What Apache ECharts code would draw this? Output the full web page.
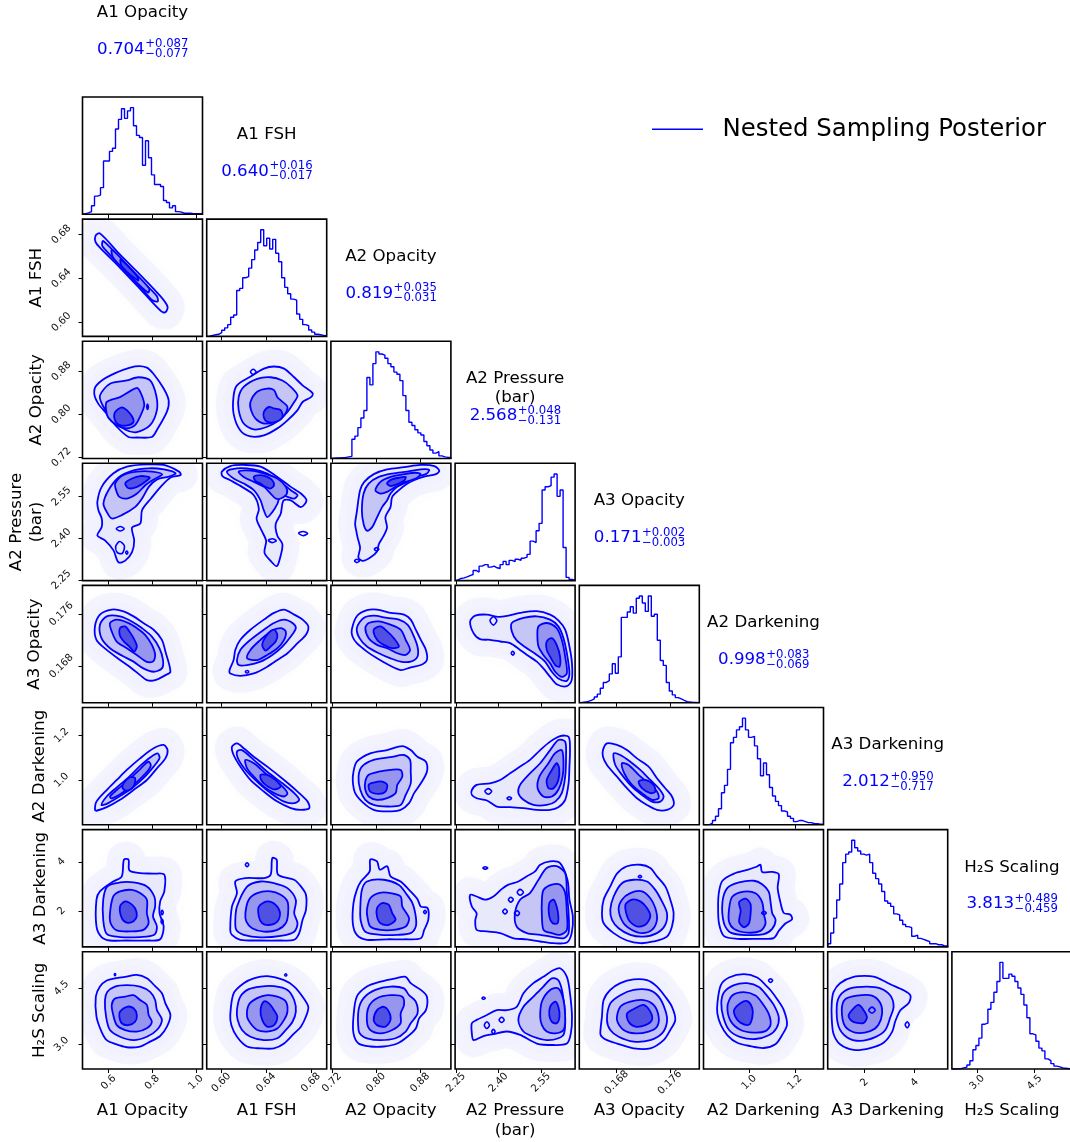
<!DOCTYPE html>
<html>
<head>
<meta charset="utf-8">
<script src="https://cdn.jsdelivr.net/npm/echarts@6/dist/echarts.min.js"></script>
<style>
  html, body { margin: 0; padding: 0; background: #ffffff; }
  #chart { width: 1070px; height: 1142px; }
</style>
</head>
<body>
<div id="chart"></div>
<script>
// ---------------- parameters ----------------
const PARAM_NAMES = ['A1 Opacity', 'A1 FSH', 'A2 Opacity', 'A2 Pressure\n(bar)', 'A3 Opacity', 'A2 Darkening', 'A3 Darkening', 'H\u2082S Scaling'];
const AXIS_MIN = [0.48, 0.587, 0.718, 2.247, 0.1624, 0.80, 0.54, 2.34];
const AXIS_MAX = [1.03, 0.694, 0.936, 2.670, 0.1804, 1.326, 5.31, 5.47];
const TICK_VALUES = [[0.6, 0.8, 1.0], [0.60, 0.64, 0.68], [0.72, 0.80, 0.88], [2.25, 2.40, 2.55], [0.168, 0.176], [1.0, 1.2], [2, 4], [3.0, 4.5]];
const TICK_TEXT = [['0.6', '0.8', '1.0'], ['0.60', '0.64', '0.68'], ['0.72', '0.80', '0.88'], ['2.25', '2.40', '2.55'], ['0.168', '0.176'], ['1.0', '1.2'], ['2', '4'], ['3.0', '4.5']];
const MEDIAN_TEXT = ['0.704', '0.640', '0.819', '2.568', '0.171', '0.998', '2.012', '3.813'];
const ERR_UP_TEXT = ['+0.087', '+0.016', '+0.035', '+0.048', '+0.002', '+0.083', '+0.950', '+0.489'];
const ERR_DOWN_TEXT = ['\u22120.077', '\u22120.017', '\u22120.031', '\u22120.131', '\u22120.003', '\u22120.069', '\u22120.717', '\u22120.459'];
const LEGEND_TEXT = 'Nested Sampling Posterior';

// ---------------- 1D marginals (40 bins over each axis range, relative counts) ----------------
const HIST_A1_OPACITY = [0.6,1.3,2.5,8,17,18,25,50,50,59,62,80,89,99,90,97,100,83,74,72,46,69,53,37,28,28,26,13,11,6,8,2.5,2,1,1,1,0.5,0.5,0.5,0.3];
const HIST_A1_FSH = [0.3,1,1.5,2,3.5,5.7,8,11,18,20,43,45,55,56,64,72,81,88,100,85,92,82,91,78,70,55,46,40,35,34,21,16,11,10,6,4,2,1.5,1,0.5];
const HIST_A2_OPACITY = [0.3,0.5,0.6,0.8,1,1.5,2,18,21,29,38,45,76,69,89,100,98,97,94,89,86,81,79,73,59,45,34,31,27,24,22,16,12,8,5,6.5,2.5,1.5,1,1];
const HIST_A2_PRESSURE = [0.6,2,2.5,3.5,4.7,5.7,9.5,8,13.6,15,15,12.6,13.6,12,11.4,15,18,15,19,17.7,20,19,21,22,24.6,37,35.7,46.8,53.7,85,88,89,97,100,79,85,31,3,1,0.5];
const HIST_A3_OPACITY = [0.3,0.6,1.3,2.2,3.5,5.4,8,13.6,19,20.6,27,36.5,27.6,43,80,80,85,90,84,98,100,93.5,85.6,100,81,83,58.6,39.6,35,19,11,7.3,4.8,3.5,2.2,1,0.6,0.3,0.2,0.1];
const HIST_A2_DARKENING = [0,0.2,1.5,4,8,15,30,37,52,77,82,89,92,100,89,82,83,74,62,46,58,47,35,27,22,18,13,12,8,6,3,4,4,3,2,2,1,1,0.5,0.5];
const HIST_A3_DARKENING = [3,13,27,44,59,79,87,89,100,93,90,87,86,87,79,69,64,59,52,43,41,38,31,30,25,21,19,18,10,11,8,7,6,5,3,3,2,2,1,1];
const HIST_H2S_SCALING = [0,0,0.3,1,1.7,3.7,7.8,18,22,29,42,43,56,62.5,72,82,100,85,85,89,87,82,76,70,60,48,33,32,26,19.6,17,9.5,7.8,5,2.7,2,1,0.7,0.3,0];

// ---------------- 2D credible contours (outer -> inner), vertices in data units ----------------
const LEVELS_1_0 = [
  [[0.54,0.679],[0.56,0.681],[0.65,0.662],[0.75,0.642],[0.84,0.623],[0.87,0.614],[0.86,0.609],[0.84,0.610],[0.75,0.629],[0.65,0.650],[0.56,0.668],[0.54,0.673]],
  [[0.575,0.674],[0.65,0.659],[0.75,0.638],[0.82,0.624],[0.825,0.619],[0.80,0.620],[0.75,0.631],[0.65,0.652],[0.585,0.666],[0.57,0.670]],
  [[0.615,0.666],[0.70,0.649],[0.785,0.631],[0.78,0.627],[0.70,0.642],[0.62,0.659]],
  [[0.655,0.657],[0.73,0.642],[0.735,0.638],[0.66,0.651]]
];
const ISLANDS_1_0 = [];

const LEVELS_2_0 = [
  [[0.534,0.838],[0.544,0.854],[0.606,0.872],[0.721,0.889],[0.775,0.887],[0.806,0.875],[0.852,0.848],[0.875,0.826],[0.867,0.805],[0.821,0.771],[0.798,0.758],[0.729,0.757],[0.691,0.758],[0.637,0.777],[0.591,0.801],[0.552,0.820]],
  [[0.560,0.835],[0.606,0.857],[0.683,0.863],[0.736,0.869],[0.790,0.863],[0.818,0.835],[0.821,0.808],[0.790,0.780],[0.729,0.767],[0.675,0.772],[0.614,0.792],[0.572,0.817]],
  [[0.591,0.823],[0.652,0.832],[0.706,0.845],[0.732,0.849],[0.752,0.835],[0.763,0.817],[0.744,0.796],[0.721,0.780],[0.683,0.774],[0.637,0.780],[0.598,0.794],[0.588,0.808]],
  [[0.629,0.804],[0.660,0.813],[0.683,0.808],[0.706,0.797],[0.714,0.786],[0.691,0.780],[0.652,0.780],[0.629,0.789]]
];
const ISLANDS_2_0 = [[[0.774,0.814],[0.778,0.819],[0.782,0.814],[0.778,0.809]]];

const LEVELS_3_0 = [
  [[0.548,2.531],[0.568,2.585],[0.622,2.634],[0.684,2.658],[0.776,2.666],[0.853,2.664],[0.922,2.640],[0.930,2.628],[0.884,2.619],[0.838,2.585],[0.794,2.543],[0.753,2.501],[0.745,2.453],[0.707,2.438],[0.717,2.392],[0.707,2.350],[0.676,2.319],[0.645,2.313],[0.622,2.356],[0.583,2.392],[0.548,2.410],[0.568,2.440],[0.568,2.471],[0.553,2.501]],
  [[0.576,2.525],[0.599,2.573],[0.645,2.619],[0.707,2.643],[0.784,2.652],[0.853,2.648],[0.907,2.634],[0.876,2.622],[0.822,2.612],[0.784,2.585],[0.753,2.543],[0.722,2.513],[0.660,2.483],[0.614,2.471],[0.591,2.495]],
  [[0.630,2.598],[0.668,2.628],[0.730,2.640],[0.799,2.640],[0.845,2.630],[0.807,2.612],[0.768,2.591],[0.730,2.561],[0.684,2.543],[0.649,2.549],[0.634,2.573]],
  [[0.676,2.598],[0.707,2.615],[0.745,2.624],[0.788,2.619],[0.768,2.604],[0.730,2.585],[0.691,2.580]]
];
const ISLANDS_3_0 = [
  [[0.635,2.434],[0.653,2.442],[0.671,2.434],[0.653,2.426]],
  [[0.632,2.370],[0.650,2.388],[0.672,2.372],[0.662,2.345],[0.640,2.348]],
  [[0.678,2.349],[0.683,2.354],[0.688,2.348],[0.683,2.342]]
];

const LEVELS_4_0 = [
  [[0.537,0.17410],[0.560,0.17592],[0.614,0.17669],[0.668,0.17642],[0.714,0.17565],[0.759,0.17462],[0.806,0.17360],[0.844,0.17205],[0.860,0.17025],[0.883,0.16715],[0.860,0.16663],[0.813,0.16586],[0.775,0.16586],[0.744,0.16663],[0.706,0.16766],[0.652,0.16895],[0.591,0.17050],[0.544,0.17205]],
  [[0.560,0.17437],[0.591,0.17565],[0.652,0.17565],[0.706,0.17487],[0.752,0.17385],[0.798,0.17255],[0.833,0.17075],[0.849,0.16895],[0.844,0.16766],[0.806,0.16715],[0.759,0.16766],[0.714,0.16870],[0.664,0.16956],[0.606,0.17075],[0.567,0.17230]],
  [[0.606,0.17462],[0.637,0.17514],[0.691,0.17462],[0.729,0.17385],[0.767,0.17282],[0.798,0.17127],[0.813,0.16973],[0.803,0.16870],[0.772,0.16870],[0.729,0.16973],[0.683,0.17075],[0.637,0.17178],[0.614,0.17333]],
  [[0.652,0.17385],[0.675,0.17410],[0.695,0.17333],[0.714,0.17230],[0.729,0.17111],[0.717,0.17025],[0.695,0.17102],[0.670,0.17178],[0.652,0.17266]]
];
const ISLANDS_4_0 = [];

const LEVELS_5_0 = [
  [[0.537,0.867],[0.544,0.904],[0.591,0.956],[0.637,1.001],[0.683,1.046],[0.744,1.098],[0.806,1.143],[0.852,1.158],[0.870,1.135],[0.860,1.098],[0.821,1.053],[0.775,1.001],[0.714,0.956],[0.652,0.912],[0.591,0.879],[0.544,0.863]],
  [[0.567,0.889],[0.591,0.927],[0.637,0.968],[0.691,1.013],[0.744,1.064],[0.790,1.102],[0.824,1.120],[0.833,1.098],[0.806,1.061],[0.759,1.009],[0.706,0.964],[0.644,0.924],[0.591,0.894]],
  [[0.606,0.927],[0.637,0.956],[0.691,1.001],[0.744,1.050],[0.782,1.083],[0.793,1.065],[0.767,1.028],[0.714,0.979],[0.660,0.942],[0.614,0.918]],
  [[0.668,0.986],[0.698,1.013],[0.721,1.009],[0.714,0.972],[0.683,0.953],[0.664,0.964]]
];
const ISLANDS_5_0 = [];

const LEVELS_6_0 = [
  [[0.544,2.46],[0.560,2.80],[0.621,3.20],[0.660,3.41],[0.670,4.09],[0.691,4.09],[0.695,3.65],[0.744,3.54],[0.806,3.52],[0.855,3.48],[0.855,2.80],[0.836,2.39],[0.833,1.91],[0.852,1.37],[0.836,0.85],[0.783,0.80],[0.683,0.80],[0.606,0.80],[0.567,0.94],[0.544,1.37]],
  [[0.575,2.46],[0.594,3.00],[0.652,3.16],[0.714,3.16],[0.775,3.00],[0.809,2.59],[0.813,2.19],[0.803,1.78],[0.821,1.37],[0.809,1.03],[0.744,0.94],[0.652,0.94],[0.591,1.07],[0.575,1.64]],
  [[0.606,1.91],[0.621,2.59],[0.652,2.80],[0.706,2.86],[0.744,2.73],[0.775,2.46],[0.775,1.91],[0.783,1.50],[0.759,1.23],[0.706,1.17],[0.637,1.21],[0.609,1.50]],
  [[0.652,2.19],[0.675,2.39],[0.698,2.32],[0.721,2.11],[0.729,1.80],[0.714,1.58],[0.683,1.53],[0.660,1.71]]
];
const ISLANDS_6_0 = [
  [[0.840,1.94],[0.845,2.03],[0.850,1.94],[0.845,1.85]],
  [[0.840,1.57],[0.845,1.66],[0.850,1.57],[0.845,1.48]]
];

const LEVELS_7_0 = [
  [[0.541,4.27],[0.560,4.54],[0.591,4.70],[0.629,4.76],[0.675,4.80],[0.729,4.85],[0.775,4.76],[0.813,4.55],[0.844,4.36],[0.860,4.09],[0.883,3.78],[0.867,3.47],[0.836,3.22],[0.790,3.07],[0.744,2.94],[0.683,2.92],[0.629,3.01],[0.591,3.11],[0.567,3.34],[0.544,3.74]],
  [[0.583,4.18],[0.594,4.40],[0.629,4.54],[0.683,4.58],[0.744,4.54],[0.790,4.40],[0.813,4.18],[0.821,3.91],[0.844,3.65],[0.821,3.38],[0.775,3.20],[0.714,3.11],[0.652,3.20],[0.606,3.38],[0.588,3.74]],
  [[0.614,4.05],[0.629,4.22],[0.675,4.27],[0.714,4.31],[0.744,4.18],[0.775,4.05],[0.783,3.78],[0.798,3.60],[0.775,3.43],[0.729,3.34],[0.675,3.38],[0.637,3.51],[0.621,3.78]],
  [[0.652,3.87],[0.683,4.00],[0.714,3.96],[0.729,3.78],[0.721,3.60],[0.691,3.51],[0.660,3.56],[0.649,3.74]]
];
const ISLANDS_7_0 = [[[0.626,4.86],[0.629,4.89],[0.632,4.86],[0.629,4.83]]];

const LEVELS_2_1 = [
  [[0.611,0.835],[0.614,0.854],[0.625,0.869],[0.638,0.885],[0.647,0.889],[0.656,0.885],[0.665,0.869],[0.6725,0.854],[0.6815,0.839],[0.680,0.832],[0.6725,0.823],[0.668,0.808],[0.659,0.789],[0.650,0.774],[0.638,0.761],[0.626,0.759],[0.617,0.770],[0.611,0.801]],
  [[0.6155,0.832],[0.620,0.851],[0.632,0.866],[0.644,0.869],[0.6545,0.863],[0.662,0.851],[0.668,0.835],[0.665,0.823],[0.659,0.8045],[0.6515,0.789],[0.641,0.777],[0.629,0.772],[0.620,0.783],[0.6155,0.808]],
  [[0.626,0.823],[0.632,0.842],[0.641,0.848],[0.647,0.845],[0.650,0.832],[0.653,0.826],[0.659,0.814],[0.656,0.798],[0.647,0.786],[0.638,0.783],[0.6305,0.792],[0.6265,0.808]],
  [[0.638,0.8045],[0.6425,0.814],[0.647,0.811],[0.653,0.808],[0.6545,0.795],[0.6485,0.786],[0.641,0.786],[0.638,0.794]]
];
const ISLANDS_2_1 = [[[0.626,0.879],[0.6285,0.884],[0.631,0.879],[0.6285,0.874]]];

const LEVELS_3_1 = [
  [[0.6005,2.640],[0.608,2.660],[0.620,2.664],[0.635,2.658],[0.650,2.621],[0.662,2.585],[0.671,2.561],[0.676,2.536],[0.671,2.512],[0.662,2.536],[0.6555,2.536],[0.653,2.488],[0.6485,2.451],[0.650,2.409],[0.6545,2.378],[0.6525,2.330],[0.6495,2.299],[0.644,2.318],[0.6385,2.348],[0.640,2.390],[0.636,2.427],[0.6315,2.470],[0.6335,2.506],[0.629,2.555],[0.6185,2.585],[0.608,2.609],[0.601,2.624]],
  [[0.605,2.640],[0.614,2.652],[0.629,2.648],[0.641,2.633],[0.653,2.603],[0.662,2.573],[0.668,2.555],[0.665,2.543],[0.659,2.549],[0.653,2.555],[0.650,2.524],[0.6455,2.494],[0.641,2.476],[0.638,2.500],[0.635,2.536],[0.629,2.573],[0.620,2.597],[0.611,2.615]],
  [[0.6155,2.640],[0.626,2.644],[0.638,2.634],[0.650,2.615],[0.6575,2.585],[0.6585,2.561],[0.653,2.543],[0.6485,2.543],[0.644,2.561],[0.638,2.585],[0.629,2.603],[0.620,2.621]],
  [[0.629,2.621],[0.635,2.627],[0.641,2.621],[0.6455,2.609],[0.647,2.591],[0.644,2.579],[0.6395,2.585],[0.635,2.597],[0.6305,2.607]]
];
const ISLANDS_3_1 = [
  [[0.669,2.418],[0.673,2.424],[0.677,2.417],[0.673,2.409]],
  [[0.642,2.392],[0.6455,2.398],[0.649,2.391],[0.6455,2.384]]
];

const LEVELS_4_1 = [
  [[0.6074,0.16741],[0.611,0.16895],[0.6125,0.17050],[0.617,0.17205],[0.626,0.17360],[0.638,0.17515],[0.647,0.17618],[0.656,0.17669],[0.665,0.17592],[0.6725,0.17515],[0.6776,0.17411],[0.6755,0.17282],[0.668,0.17153],[0.659,0.16999],[0.650,0.16895],[0.641,0.16792],[0.629,0.16689],[0.617,0.16653],[0.608,0.16689]],
  [[0.614,0.16895],[0.617,0.17050],[0.626,0.17205],[0.638,0.17360],[0.647,0.17463],[0.656,0.17515],[0.6635,0.17463],[0.6665,0.17385],[0.662,0.17256],[0.6545,0.17102],[0.6455,0.16973],[0.635,0.16870],[0.623,0.16818],[0.6155,0.16818]],
  [[0.623,0.16921],[0.626,0.17050],[0.635,0.17205],[0.644,0.17334],[0.653,0.17385],[0.6575,0.17334],[0.656,0.17205],[0.650,0.17076],[0.641,0.16973],[0.632,0.16895]],
  [[0.6365,0.17127],[0.641,0.17282],[0.647,0.17360],[0.650,0.17282],[0.6485,0.17179],[0.644,0.17102],[0.6395,0.17040]]
];
const ISLANDS_4_1 = [[[0.6215,0.16715],[0.623,0.16735],[0.6245,0.16715],[0.623,0.16695]]];

const LEVELS_5_1 = [
  [[0.6095,1.150],[0.614,1.165],[0.620,1.143],[0.629,1.105],[0.641,1.061],[0.656,1.001],[0.668,0.949],[0.677,0.904],[0.6785,0.875],[0.671,0.867],[0.662,0.875],[0.650,0.904],[0.638,0.949],[0.626,1.001],[0.617,1.061],[0.611,1.113]],
  [[0.614,1.128],[0.6185,1.135],[0.629,1.091],[0.641,1.038],[0.6545,0.986],[0.665,0.942],[0.6695,0.912],[0.665,0.897],[0.656,0.904],[0.644,0.942],[0.6335,0.986],[0.623,1.038],[0.6155,1.091]],
  [[0.6215,1.091],[0.629,1.076],[0.641,1.024],[0.653,0.979],[0.659,0.942],[0.656,0.927],[0.647,0.942],[0.638,0.971],[0.629,1.016],[0.623,1.053]],
  [[0.635,1.024],[0.641,1.024],[0.6485,1.001],[0.653,0.971],[0.647,0.959],[0.6395,0.979],[0.6356,1.001]]
];
const ISLANDS_5_1 = [];

const LEVELS_6_1 = [
  [[0.608,1.23],[0.6095,2.18],[0.614,2.73],[0.6125,3.20],[0.6215,3.34],[0.638,3.34],[0.644,3.48],[0.6455,4.15],[0.6494,4.09],[0.6506,3.48],[0.665,3.27],[0.671,3.00],[0.6755,2.66],[0.6755,2.05],[0.6725,1.64],[0.6695,1.10],[0.665,0.83],[0.653,0.80],[0.635,0.80],[0.617,0.83],[0.6095,1.03]],
  [[0.6125,1.64],[0.614,2.18],[0.623,2.99],[0.635,3.20],[0.647,3.13],[0.659,2.93],[0.6665,2.45],[0.665,1.91],[0.668,1.50],[0.665,1.16],[0.653,0.99],[0.635,0.93],[0.620,1.03],[0.6134,1.23]],
  [[0.6215,1.91],[0.6245,2.46],[0.632,2.73],[0.644,2.80],[0.653,2.66],[0.659,2.39],[0.6596,1.91],[0.6575,1.50],[0.650,1.23],[0.638,1.16],[0.6275,1.30],[0.6224,1.57]],
  [[0.6335,2.18],[0.641,2.39],[0.6485,2.25],[0.6524,1.91],[0.650,1.57],[0.6425,1.43],[0.6365,1.50],[0.6335,1.77]]
];
const ISLANDS_6_1 = [[[0.6215,3.88],[0.623,3.96],[0.6245,3.88],[0.623,3.80]]];

const LEVELS_7_1 = [
  [[0.608,3.78],[0.611,4.36],[0.620,4.63],[0.629,4.76],[0.641,4.82],[0.656,4.71],[0.665,4.54],[0.6725,4.27],[0.6776,4.00],[0.6755,3.74],[0.671,3.47],[0.665,3.29],[0.656,3.02],[0.647,2.89],[0.635,2.89],[0.623,2.94],[0.614,3.20],[0.609,3.51]],
  [[0.614,3.92],[0.617,4.27],[0.6245,4.47],[0.635,4.54],[0.647,4.55],[0.659,4.45],[0.665,4.18],[0.6665,3.87],[0.6635,3.60],[0.6575,3.38],[0.650,3.16],[0.638,3.11],[0.626,3.20],[0.6185,3.38],[0.6146,3.65]],
  [[0.623,3.74],[0.6245,4.05],[0.632,4.23],[0.641,4.31],[0.650,4.27],[0.6575,4.14],[0.659,3.87],[0.656,3.65],[0.650,3.42],[0.641,3.34],[0.632,3.38],[0.626,3.56]],
  [[0.635,3.91],[0.638,4.14],[0.6425,4.09],[0.647,3.91],[0.650,3.74],[0.647,3.51],[0.641,3.47],[0.6365,3.65]]
];
const ISLANDS_7_1 = [[[0.6565,4.85],[0.6575,4.88],[0.6585,4.85],[0.6575,4.82]]];

const LEVELS_3_2 = [
  [[0.762,2.451],[0.765,2.494],[0.771,2.573],[0.7786,2.603],[0.796,2.631],[0.820,2.648],[0.851,2.656],[0.881,2.664],[0.906,2.660],[0.915,2.643],[0.909,2.631],[0.8875,2.622],[0.869,2.609],[0.8557,2.595],[0.8416,2.573],[0.8294,2.549],[0.8263,2.512],[0.817,2.476],[0.820,2.439],[0.814,2.409],[0.805,2.378],[0.8018,2.352],[0.7896,2.330],[0.776,2.318],[0.768,2.330],[0.771,2.366],[0.7664,2.403],[0.764,2.427]],
  [[0.7743,2.500],[0.7774,2.561],[0.7866,2.597],[0.805,2.621],[0.8294,2.633],[0.857,2.640],[0.881,2.648],[0.8967,2.646],[0.8906,2.631],[0.8722,2.621],[0.857,2.603],[0.8386,2.585],[0.8263,2.561],[0.820,2.536],[0.811,2.512],[0.802,2.476],[0.7927,2.439],[0.7835,2.427],[0.7774,2.451]],
  [[0.7988,2.573],[0.808,2.603],[0.8263,2.621],[0.8508,2.631],[0.872,2.636],[0.881,2.631],[0.872,2.615],[0.8539,2.603],[0.8355,2.585],[0.820,2.567],[0.808,2.561]],
  [[0.820,2.597],[0.829,2.612],[0.8447,2.619],[0.854,2.621],[0.851,2.607],[0.8386,2.595],[0.8263,2.588]]
];
const ISLANDS_3_2 = [
  [[0.761,2.318],[0.765,2.324],[0.770,2.318],[0.765,2.312]],
  [[0.797,2.360],[0.801,2.366],[0.805,2.360],[0.801,2.354]]
];

const LEVELS_4_2 = [
  [[0.7559,0.17360],[0.7651,0.17566],[0.7835,0.17659],[0.8018,0.17669],[0.8263,0.17618],[0.8508,0.17592],[0.8630,0.17514],[0.8722,0.17360],[0.8814,0.17205],[0.8906,0.17050],[0.8924,0.16895],[0.8814,0.16818],[0.8630,0.16782],[0.8447,0.16741],[0.8233,0.16818],[0.8018,0.16921],[0.7835,0.17024],[0.7651,0.17153],[0.7572,0.17256]],
  [[0.7651,0.17385],[0.7774,0.17540],[0.7957,0.17576],[0.8202,0.17540],[0.8416,0.17514],[0.857,0.17437],[0.8661,0.17308],[0.8753,0.17102],[0.8753,0.16947],[0.863,0.16870],[0.8447,0.16870],[0.8263,0.16921],[0.805,0.16999],[0.7835,0.17102],[0.770,0.17230]],
  [[0.7805,0.17385],[0.7866,0.17462],[0.805,0.17488],[0.8263,0.17437],[0.8447,0.17360],[0.8539,0.17205],[0.8618,0.17050],[0.8539,0.16973],[0.8386,0.16999],[0.820,0.17076],[0.8018,0.17127],[0.7866,0.17230]],
  [[0.7957,0.17360],[0.808,0.17411],[0.8202,0.17334],[0.8324,0.17230],[0.8416,0.17102],[0.8294,0.17076],[0.814,0.17127],[0.8018,0.17205]]
];
const ISLANDS_4_2 = [];

const LEVELS_5_2 = [
  [[0.759,1.038],[0.7651,1.083],[0.7896,1.120],[0.8202,1.135],[0.8477,1.153],[0.863,1.135],[0.8753,1.105],[0.8906,1.083],[0.8924,1.038],[0.8814,0.986],[0.8692,0.942],[0.860,0.897],[0.8447,0.867],[0.8202,0.860],[0.7957,0.867],[0.7774,0.897],[0.7621,0.942],[0.7578,0.994]],
  [[0.7682,1.016],[0.7743,1.061],[0.7957,1.091],[0.8263,1.103],[0.8508,1.113],[0.8618,1.091],[0.863,1.038],[0.863,0.986],[0.8539,0.934],[0.8447,0.889],[0.8202,0.882],[0.7957,0.889],[0.7805,0.912],[0.7713,0.957]],
  [[0.7805,0.994],[0.7866,1.024],[0.805,1.038],[0.8263,1.046],[0.8447,1.046],[0.8477,1.016],[0.8386,0.979],[0.8355,0.942],[0.8202,0.920],[0.8018,0.912],[0.7866,0.927],[0.7805,0.957]],
  [[0.7866,0.979],[0.7957,0.989],[0.811,0.994],[0.8202,0.979],[0.8171,0.949],[0.805,0.939],[0.7896,0.949]]
];
const ISLANDS_5_2 = [];

const LEVELS_6_2 = [
  [[0.759,2.32],[0.7651,2.86],[0.7725,3.20],[0.7884,3.61],[0.7896,4.09],[0.8018,4.02],[0.8067,3.68],[0.8202,3.82],[0.8263,3.41],[0.8447,3.20],[0.860,2.86],[0.8753,2.48],[0.8814,2.18],[0.8936,2.12],[0.8949,1.64],[0.8875,1.23],[0.8814,0.89],[0.8508,0.85],[0.8202,0.85],[0.7835,0.83],[0.7651,1.03],[0.7578,1.50]],
  [[0.7713,2.05],[0.7743,2.86],[0.7835,3.20],[0.8141,3.27],[0.8416,3.06],[0.8539,2.73],[0.8661,2.32],[0.8722,1.77],[0.8722,1.37],[0.863,1.10],[0.8386,1.03],[0.808,1.03],[0.7805,1.16],[0.7725,1.57]],
  [[0.7835,2.05],[0.7896,2.52],[0.805,2.73],[0.8263,2.73],[0.8447,2.59],[0.8477,2.18],[0.860,1.71],[0.8539,1.37],[0.8324,1.23],[0.808,1.23],[0.7896,1.37],[0.7847,1.71]],
  [[0.8018,2.12],[0.811,2.32],[0.8233,2.25],[0.8294,1.91],[0.8355,1.64],[0.8233,1.44],[0.808,1.50],[0.8018,1.77]]
];
const ISLANDS_6_2 = [[[0.8865,1.96],[0.889,2.03],[0.8915,1.96],[0.889,1.89]]];

const LEVELS_7_2 = [
  [[0.759,3.29],[0.759,3.74],[0.7651,4.27],[0.7835,4.54],[0.808,4.67],[0.8355,4.76],[0.8539,4.80],[0.863,4.63],[0.8814,4.45],[0.8924,4.27],[0.8906,3.91],[0.8783,3.69],[0.8722,3.42],[0.8569,3.20],[0.8386,3.02],[0.8141,2.94],[0.7896,2.94],[0.7682,3.02]],
  [[0.7682,3.38],[0.7682,3.91],[0.7774,4.23],[0.7988,4.45],[0.8263,4.54],[0.8508,4.49],[0.8599,4.31],[0.8722,4.14],[0.8753,3.82],[0.863,3.56],[0.8539,3.34],[0.8355,3.16],[0.808,3.11],[0.7835,3.16],[0.7725,3.25]],
  [[0.7835,3.60],[0.7866,4.00],[0.8018,4.23],[0.8263,4.31],[0.8477,4.27],[0.8508,4.05],[0.8447,3.82],[0.8447,3.56],[0.8294,3.38],[0.808,3.29],[0.7896,3.38]],
  [[0.7957,3.65],[0.8018,3.91],[0.8141,4.00],[0.8233,3.87],[0.8263,3.65],[0.8171,3.47],[0.8018,3.51]]
];
const ISLANDS_7_2 = [];

const LEVELS_4_3 = [
  [[2.300,0.17489],[2.318,0.17576],[2.359,0.17592],[2.400,0.17556],[2.435,0.17576],[2.476,0.17618],[2.535,0.17644],[2.582,0.17592],[2.611,0.17504],[2.635,0.17360],[2.650,0.17102],[2.659,0.16844],[2.658,0.16586],[2.641,0.16493],[2.605,0.16524],[2.582,0.16637],[2.558,0.16766],[2.535,0.16870],[2.506,0.16957],[2.476,0.17050],[2.441,0.17153],[2.406,0.17179],[2.370,0.17205],[2.335,0.17215],[2.312,0.17308]],
  [[2.447,0.17463],[2.488,0.17540],[2.535,0.17566],[2.582,0.17514],[2.611,0.17411],[2.629,0.17231],[2.641,0.16999],[2.650,0.16689],[2.641,0.16575],[2.611,0.16611],[2.588,0.16715],[2.564,0.16870],[2.535,0.16973],[2.500,0.17076],[2.464,0.17195],[2.447,0.17334]],
  [[2.541,0.17411],[2.570,0.17463],[2.605,0.17385],[2.623,0.17205],[2.635,0.16947],[2.641,0.16689],[2.623,0.16637],[2.600,0.16715],[2.582,0.16844],[2.558,0.16973],[2.541,0.17102],[2.537,0.17282]],
  [[2.570,0.17179],[2.588,0.17231],[2.605,0.17128],[2.617,0.16947],[2.615,0.16792],[2.600,0.16818],[2.582,0.16947],[2.570,0.17050]]
];
const ISLANDS_4_3 = [
  [[2.370,0.17500],[2.382,0.17560],[2.394,0.17500],[2.382,0.17430]],
  [[2.445,0.17000],[2.450,0.17030],[2.456,0.17000],[2.450,0.16970]]
];

const LEVELS_5_3 = [
  [[2.306,0.956],[2.323,0.979],[2.370,0.986],[2.406,1.001],[2.441,1.031],[2.476,1.061],[2.511,1.091],[2.547,1.135],[2.582,1.173],[2.617,1.198],[2.647,1.195],[2.652,1.135],[2.650,1.061],[2.647,0.986],[2.635,0.912],[2.611,0.879],[2.582,0.867],[2.535,0.867],[2.488,0.875],[2.441,0.879],[2.394,0.882],[2.359,0.909],[2.323,0.919],[2.306,0.934]],
  [[2.476,0.979],[2.511,1.031],[2.547,1.076],[2.582,1.135],[2.611,1.180],[2.635,1.173],[2.638,1.105],[2.635,1.016],[2.623,0.942],[2.600,0.904],[2.570,0.889],[2.523,0.889],[2.488,0.912],[2.470,0.942]],
  [[2.538,0.964],[2.544,1.016],[2.576,1.076],[2.599,1.120],[2.623,1.135],[2.629,1.083],[2.626,1.016],[2.611,0.957],[2.588,0.927],[2.558,0.927]],
  [[2.570,1.001],[2.588,1.046],[2.605,1.076],[2.614,1.053],[2.611,1.001],[2.594,0.964],[2.576,0.964]]
];
const ISLANDS_5_3 = [
  [[2.352,0.950],[2.364,0.962],[2.376,0.950],[2.364,0.937]],
  [[2.430,0.919],[2.438,0.926],[2.446,0.919],[2.438,0.912]]
];

const LEVELS_6_3 = [
  [[2.300,2.66],[2.306,2.18],[2.323,1.91],[2.318,1.61],[2.323,1.23],[2.359,1.17],[2.406,1.10],[2.453,0.89],[2.500,0.85],[2.547,0.76],[2.594,0.69],[2.641,0.72],[2.658,1.10],[2.662,1.78],[2.650,2.46],[2.643,3.27],[2.617,3.95],[2.582,4.02],[2.547,3.88],[2.529,3.61],[2.500,3.41],[2.470,3.20],[2.435,3.07],[2.411,2.89],[2.382,2.59],[2.353,2.46],[2.323,2.59]],
  [[2.476,2.46],[2.511,2.73],[2.541,3.27],[2.570,3.75],[2.605,3.82],[2.635,3.54],[2.641,2.73],[2.647,1.91],[2.647,1.10],[2.629,0.89],[2.594,0.94],[2.547,1.03],[2.500,1.10],[2.464,1.37],[2.458,1.91]],
  [[2.553,2.46],[2.559,2.86],[2.588,3.07],[2.617,3.07],[2.635,2.73],[2.641,1.91],[2.641,1.23],[2.617,1.03],[2.588,1.10],[2.559,1.23],[2.553,1.78]],
  [[2.579,2.32],[2.594,2.46],[2.605,2.18],[2.611,1.78],[2.608,1.50],[2.591,1.50],[2.579,1.78]]
];
const ISLANDS_6_3 = [
  [[2.466,2.76],[2.476,2.88],[2.488,2.76],[2.476,2.64]],
  [[2.435,2.46],[2.443,2.56],[2.452,2.46],[2.443,2.36]],
  [[2.415,1.98],[2.423,2.08],[2.431,1.98],[2.423,1.88]],
  [[2.456,1.91],[2.466,2.01],[2.474,1.91],[2.466,1.81]],
  [[2.345,3.75],[2.353,3.80],[2.362,3.75],[2.353,3.70]]
];

const LEVELS_7_3 = [
  [[2.306,3.56],[2.323,3.65],[2.359,3.78],[2.394,3.91],[2.429,3.91],[2.464,4.00],[2.488,4.36],[2.523,4.63],[2.558,4.80],[2.594,4.98],[2.617,5.03],[2.641,4.80],[2.652,4.36],[2.659,3.74],[2.655,3.29],[2.641,3.02],[2.594,2.98],[2.535,3.02],[2.476,3.25],[2.429,3.34],[2.382,3.27],[2.347,3.22],[2.312,3.11],[2.306,3.29]],
  [[2.470,3.65],[2.488,4.00],[2.523,4.27],[2.558,4.54],[2.588,4.76],[2.611,4.71],[2.626,4.36],[2.635,3.74],[2.631,3.29],[2.611,3.16],[2.570,3.11],[2.523,3.20],[2.488,3.34]],
  [[2.547,3.74],[2.553,4.14],[2.582,4.45],[2.611,4.49],[2.629,4.18],[2.635,3.65],[2.629,3.38],[2.600,3.29],[2.570,3.34],[2.553,3.51]],
  [[2.582,4.00],[2.600,4.14],[2.611,4.00],[2.615,3.74],[2.605,3.56],[2.588,3.60],[2.579,3.78]]
];
const ISLANDS_7_3 = [
  [[2.350,3.51],[2.359,3.60],[2.368,3.51],[2.359,3.42]],
  [[2.402,3.65],[2.411,3.72],[2.420,3.65],[2.411,3.58]],
  [[2.376,3.34],[2.382,3.40],[2.388,3.34],[2.382,3.28]],
  [[2.342,4.23],[2.347,4.26],[2.353,4.23],[2.347,4.20]]
];

const LEVELS_5_4 = [
  [[0.16595,1.135],[0.16655,1.165],[0.16805,1.158],[0.16955,1.135],[0.17105,1.098],[0.17280,1.061],[0.17405,1.009],[0.17530,0.964],[0.17630,0.927],[0.17655,0.889],[0.17555,0.867],[0.17405,0.867],[0.17255,0.889],[0.17105,0.919],[0.16955,0.964],[0.16805,1.016],[0.16655,1.068],[0.16595,1.105]],
  [[0.16755,1.120],[0.16855,1.113],[0.17005,1.083],[0.17155,1.046],[0.17305,1.001],[0.17430,0.964],[0.17505,0.927],[0.17455,0.904],[0.17330,0.904],[0.17180,0.934],[0.17030,0.971],[0.16880,1.024],[0.16780,1.068]],
  [[0.16880,1.076],[0.16980,1.068],[0.17130,1.024],[0.17280,0.986],[0.17405,0.949],[0.17430,0.919],[0.17330,0.912],[0.17180,0.942],[0.17030,0.979],[0.16915,1.031]],
  [[0.17130,0.994],[0.17230,1.001],[0.17355,0.979],[0.17380,0.949],[0.17305,0.942],[0.17180,0.964]]
];
const ISLANDS_5_4 = [];

const LEVELS_6_4 = [
  [[0.16580,1.91],[0.16605,2.46],[0.16705,3.00],[0.16805,3.52],[0.16955,3.82],[0.17155,3.88],[0.17305,3.75],[0.17405,3.41],[0.17530,3.00],[0.17605,2.46],[0.17655,1.91],[0.17630,1.37],[0.17555,0.96],[0.17355,0.76],[0.17155,0.69],[0.16955,0.80],[0.16755,1.10],[0.16605,1.50]],
  [[0.16705,2.05],[0.16755,2.59],[0.16880,3.13],[0.17055,3.27],[0.17255,3.20],[0.17380,2.86],[0.17480,2.39],[0.17555,1.91],[0.17530,1.44],[0.17405,1.10],[0.17205,0.96],[0.17005,1.03],[0.16830,1.30],[0.16730,1.64]],
  [[0.16830,2.05],[0.16880,2.46],[0.17005,2.73],[0.17180,2.80],[0.17305,2.52],[0.17380,2.12],[0.17405,1.64],[0.17330,1.23],[0.17180,1.10],[0.17030,1.23],[0.16905,1.50]],
  [[0.16930,2.25],[0.17030,2.46],[0.17155,2.39],[0.17255,2.12],[0.17305,1.78],[0.17230,1.44],[0.17105,1.37],[0.16980,1.64]]
];
const ISLANDS_6_4 = [[[0.17125,3.40],[0.17150,3.45],[0.17175,3.40],[0.17150,3.35]]];

const LEVELS_7_4 = [
  [[0.16555,3.29],[0.16580,3.74],[0.16605,4.18],[0.16705,4.45],[0.16855,4.63],[0.17055,4.73],[0.17255,4.71],[0.17405,4.54],[0.17530,4.27],[0.17630,4.00],[0.17680,3.65],[0.17605,3.38],[0.17505,3.11],[0.17305,2.89],[0.17055,2.89],[0.16805,3.02],[0.16655,3.11],[0.16580,3.20]],
  [[0.16655,3.65],[0.16705,4.09],[0.16855,4.31],[0.17055,4.45],[0.17280,4.45],[0.17430,4.27],[0.17530,3.91],[0.17555,3.60],[0.17480,3.29],[0.17305,3.11],[0.17055,3.07],[0.16830,3.20],[0.16705,3.38]],
  [[0.16805,3.65],[0.16855,4.00],[0.17005,4.14],[0.17205,4.18],[0.17355,4.05],[0.17430,3.74],[0.17405,3.47],[0.17280,3.34],[0.17080,3.29],[0.16905,3.38]],
  [[0.16955,3.82],[0.17080,3.96],[0.17205,4.05],[0.17305,3.87],[0.17330,3.65],[0.17230,3.51],[0.17080,3.47],[0.16980,3.60]]
];
const ISLANDS_7_4 = [];

const LEVELS_6_5 = [
  [[0.868,2.79],[0.883,3.23],[0.934,3.52],[0.992,3.67],[1.035,3.81],[1.050,3.88],[1.057,3.59],[1.101,3.59],[1.130,3.49],[1.125,2.94],[1.137,2.36],[1.152,1.92],[1.181,1.85],[1.188,1.66],[1.159,1.49],[1.130,1.19],[1.108,0.90],[1.035,0.87],[0.948,0.87],[0.890,0.98],[0.868,1.49],[0.864,2.21]],
  [[0.883,2.36],[0.905,2.94],[0.956,3.16],[1.021,3.23],[1.057,3.09],[1.086,2.79],[1.094,2.36],[1.101,1.92],[1.116,1.63],[1.101,1.27],[1.065,1.06],[0.992,1.02],[0.919,1.12],[0.890,1.49]],
  [[0.912,2.07],[0.926,2.58],[0.977,2.79],[1.028,2.72],[1.057,2.36],[1.065,1.85],[1.072,1.49],[1.050,1.19],[0.992,1.12],[0.934,1.27],[0.912,1.56]],
  [[0.956,2.36],[0.985,2.50],[1.006,2.28],[1.006,1.85],[0.999,1.49],[0.977,1.34],[0.956,1.56],[0.963,2.00]]
];
const ISLANDS_6_5 = [[[1.055,1.92],[1.065,1.99],[1.075,1.92],[1.065,1.85]]];

const LEVELS_7_5 = [
  [[0.861,4.10],[0.876,4.58],[0.912,4.78],[0.977,4.87],[1.035,4.78],[1.072,4.58],[1.094,4.44],[1.123,4.20],[1.152,3.91],[1.166,3.52],[1.144,3.24],[1.115,3.00],[1.064,2.90],[1.006,2.95],[0.948,3.04],[0.905,3.24],[0.876,3.52],[0.861,3.81]],
  [[0.878,4.10],[0.890,4.39],[0.934,4.58],[0.992,4.63],[1.043,4.53],[1.079,4.29],[1.108,4.05],[1.130,3.72],[1.120,3.43],[1.086,3.24],[1.028,3.14],[0.963,3.19],[0.912,3.38],[0.887,3.72]],
  [[0.905,4.01],[0.926,4.30],[0.977,4.39],[1.028,4.30],[1.057,4.10],[1.086,3.81],[1.094,3.52],[1.072,3.35],[1.021,3.31],[0.963,3.38],[0.919,3.62]],
  [[0.934,3.91],[0.963,4.10],[0.992,4.15],[1.014,3.96],[1.014,3.72],[0.999,3.52],[0.963,3.57],[0.941,3.72]]
];
const ISLANDS_7_5 = [[[1.085,4.70],[1.094,4.75],[1.103,4.70],[1.094,4.65]]];

const LEVELS_7_6 = [
  [[0.70,4.10],[0.77,4.39],[1.03,4.63],[1.57,4.80],[2.23,4.82],[2.50,4.78],[3.03,4.60],[3.56,4.44],[3.83,4.30],[3.76,4.10],[3.43,3.91],[3.23,3.62],[3.10,3.33],[2.76,3.04],[2.23,2.90],[1.57,2.85],[1.03,3.00],[0.77,3.28],[0.70,3.70]],
  [[0.90,4.01],[1.03,4.30],[1.43,4.49],[2.10,4.54],[2.63,4.49],[3.03,4.30],[3.16,4.01],[3.03,3.72],[2.83,3.38],[2.43,3.19],[1.83,3.09],[1.30,3.19],[0.97,3.48]],
  [[1.10,3.91],[1.23,4.20],[1.70,4.30],[2.30,4.30],[2.63,4.10],[2.70,3.81],[2.56,3.52],[2.23,3.35],[1.63,3.31],[1.23,3.48]],
  [[1.37,3.77],[1.57,3.96],[1.77,4.05],[1.97,3.91],[2.10,3.72],[1.97,3.57],[1.70,3.57],[1.50,3.62]]
];
const ISLANDS_7_6 = [
  [[2.17,3.91],[2.30,3.99],[2.43,3.91],[2.30,3.83]],
  [[3.62,3.52],[3.70,3.60],[3.78,3.52],[3.70,3.44]]
];

// ---------------- tables built from the arrays above ----------------
const HISTOGRAMS = [HIST_A1_OPACITY, HIST_A1_FSH, HIST_A2_OPACITY, HIST_A2_PRESSURE, HIST_A3_OPACITY, HIST_A2_DARKENING, HIST_A3_DARKENING, HIST_H2S_SCALING];
const PAIR_PANELS = [
  { row: 1, col: 0, levels: LEVELS_1_0, islands: ISLANDS_1_0 },
  { row: 2, col: 0, levels: LEVELS_2_0, islands: ISLANDS_2_0 },
  { row: 3, col: 0, levels: LEVELS_3_0, islands: ISLANDS_3_0 },
  { row: 4, col: 0, levels: LEVELS_4_0, islands: ISLANDS_4_0 },
  { row: 5, col: 0, levels: LEVELS_5_0, islands: ISLANDS_5_0 },
  { row: 6, col: 0, levels: LEVELS_6_0, islands: ISLANDS_6_0 },
  { row: 7, col: 0, levels: LEVELS_7_0, islands: ISLANDS_7_0 },
  { row: 2, col: 1, levels: LEVELS_2_1, islands: ISLANDS_2_1 },
  { row: 3, col: 1, levels: LEVELS_3_1, islands: ISLANDS_3_1 },
  { row: 4, col: 1, levels: LEVELS_4_1, islands: ISLANDS_4_1 },
  { row: 5, col: 1, levels: LEVELS_5_1, islands: ISLANDS_5_1 },
  { row: 6, col: 1, levels: LEVELS_6_1, islands: ISLANDS_6_1 },
  { row: 7, col: 1, levels: LEVELS_7_1, islands: ISLANDS_7_1 },
  { row: 3, col: 2, levels: LEVELS_3_2, islands: ISLANDS_3_2 },
  { row: 4, col: 2, levels: LEVELS_4_2, islands: ISLANDS_4_2 },
  { row: 5, col: 2, levels: LEVELS_5_2, islands: ISLANDS_5_2 },
  { row: 6, col: 2, levels: LEVELS_6_2, islands: ISLANDS_6_2 },
  { row: 7, col: 2, levels: LEVELS_7_2, islands: ISLANDS_7_2 },
  { row: 4, col: 3, levels: LEVELS_4_3, islands: ISLANDS_4_3 },
  { row: 5, col: 3, levels: LEVELS_5_3, islands: ISLANDS_5_3 },
  { row: 6, col: 3, levels: LEVELS_6_3, islands: ISLANDS_6_3 },
  { row: 7, col: 3, levels: LEVELS_7_3, islands: ISLANDS_7_3 },
  { row: 5, col: 4, levels: LEVELS_5_4, islands: ISLANDS_5_4 },
  { row: 6, col: 4, levels: LEVELS_6_4, islands: ISLANDS_6_4 },
  { row: 7, col: 4, levels: LEVELS_7_4, islands: ISLANDS_7_4 },
  { row: 6, col: 5, levels: LEVELS_6_5, islands: ISLANDS_6_5 },
  { row: 7, col: 5, levels: LEVELS_7_5, islands: ISLANDS_7_5 },
  { row: 7, col: 6, levels: LEVELS_7_6, islands: ISLANDS_7_6 }
];

// ---------------- layout & style ----------------
const N_PARAMS = 8;
const PANEL_LEFT = 82.5, PANEL_COL_STEP = 124.2, PANEL_W = 120;
const PANEL_TOP = 97, PANEL_ROW_STEP = 122.1, PANEL_H = 117.3;
const HIST_CEIL = 110;              // 1.1 x the tallest bin
const FONT_FAMILY = 'DejaVu Sans';
const LABEL_SIZE = 16.67, TICK_SIZE = 10.2, SMALL_SIZE = 11.7, LEGEND_SIZE = 24.4;
const BLUE = '#0000ff';
const LEVEL_FILL = ['#e9e9fc', '#c6c6f6', '#9696ee', '#5050e2'];
const CONTOUR_WIDTH = 1.8;
const SMOOTH = 0.3;

const measureCtx = document.createElement('canvas').getContext('2d');
function textWidth(str, size) {
  measureCtx.font = size + 'px "' + FONT_FAMILY + '"';
  return measureCtx.measureText(str).width;
}
function tickFormatter(p) {
  return function (v) {
    const i = TICK_VALUES[p].findIndex(t => Math.abs(t - v) < 1e-9);
    return i >= 0 ? TICK_TEXT[p][i] : '';
  };
}
function panelLeft(c) { return PANEL_LEFT + c * PANEL_COL_STEP; }
function panelTop(r) { return PANEL_TOP + r * PANEL_ROW_STEP; }

const grids = [], xAxes = [], yAxes = [], series = [], graphics = [];
const gridOf = {};

for (let r = 0; r < N_PARAMS; r++) {
  for (let c = 0; c <= r; c++) {
    const g = grids.length;
    gridOf[r + '_' + c] = g;
    const left = panelLeft(c), top = panelTop(r);
    grids.push({ left, top, width: PANEL_W, height: PANEL_H, containLabel: false, outerBoundsMode: 'none' });

    xAxes.push({
      type: 'value', gridIndex: g, min: AXIS_MIN[c], max: AXIS_MAX[c],
      axisLine: { show: false }, splitLine: { show: false },
      axisTick: { show: true, inside: false, length: 4, customValues: TICK_VALUES[c], lineStyle: { color: '#000', width: 1 } },
      axisLabel: {
        show: r === N_PARAMS - 1, customValues: TICK_VALUES[c], rotate: 45, margin: 13.5,
        align: 'center', verticalAlign: 'middle',
        fontSize: TICK_SIZE, fontFamily: FONT_FAMILY, color: '#111', formatter: tickFormatter(c)
      },
      name: r === N_PARAMS - 1 ? PARAM_NAMES[c] : '',
      nameLocation: 'middle', nameGap: 32,
      nameTextStyle: { fontSize: LABEL_SIZE, fontFamily: FONT_FAMILY, color: '#000', lineHeight: 20, verticalAlign: 'top' }
    });

    if (r === c) {
      yAxes.push({ type: 'value', gridIndex: g, min: 0, max: HIST_CEIL, show: false });
    } else {
      yAxes.push({
        type: 'value', gridIndex: g, min: AXIS_MIN[r], max: AXIS_MAX[r],
        axisLine: { show: false }, splitLine: { show: false },
        axisTick: { show: true, inside: false, length: 4, customValues: TICK_VALUES[r], lineStyle: { color: '#000', width: 1 } },
        axisLabel: {
          show: c === 0, customValues: TICK_VALUES[r], rotate: 45, margin: 21,
          align: 'center', verticalAlign: 'middle',
          fontSize: TICK_SIZE, fontFamily: FONT_FAMILY, color: '#111', formatter: tickFormatter(r)
        },
        name: c === 0 ? PARAM_NAMES[r] : '',
        nameLocation: 'middle', nameRotate: 90, nameGap: 32,
        nameTextStyle: { fontSize: LABEL_SIZE, fontFamily: FONT_FAMILY, color: '#000', lineHeight: 20 }
      });
    }

    // panel frame drawn above the data
    graphics.push({
      type: 'rect', z: 100, silent: true,
      shape: { x: left, y: top, width: PANEL_W, height: PANEL_H },
      style: { fill: 'none', stroke: '#000', lineWidth: 1.6 }
    });
  }
}

// ---------------- marginal histograms + titles ----------------
for (let p = 0; p < N_PARAMS; p++) {
  const g = gridOf[p + '_' + p];
  const counts = HISTOGRAMS[p];
  const width = (AXIS_MAX[p] - AXIS_MIN[p]) / counts.length;
  const pts = [[AXIS_MIN[p], 0]];
  counts.forEach((v, i) => pts.push([AXIS_MIN[p] + i * width, v]));
  pts.push([AXIS_MAX[p], counts[counts.length - 1]]);
  pts.push([AXIS_MAX[p], 0]);
  series.push({
    name: LEGEND_TEXT, type: 'line', xAxisIndex: g, yAxisIndex: g,
    step: 'end', symbol: 'none', silent: true, clip: true, animation: false,
    lineStyle: { color: BLUE, width: 1.4 },
    data: pts
  });

  const cx = panelLeft(p) + PANEL_W / 2, top = panelTop(p);
  graphics.push({
    type: 'text', x: cx, y: top - 84.5 - 9.5, silent: true,
    style: { text: PARAM_NAMES[p], fill: '#000', font: LABEL_SIZE + 'px "' + FONT_FAMILY + '"', textAlign: 'center', textVerticalAlign: 'top', lineHeight: 19 }
  });
  const wMain = textWidth(MEDIAN_TEXT[p], LABEL_SIZE);
  const wSmall = Math.max(textWidth(ERR_UP_TEXT[p], SMALL_SIZE), textWidth(ERR_DOWN_TEXT[p], SMALL_SIZE));
  const x0 = cx - (wMain + wSmall) / 2;
  graphics.push({
    type: 'text', x: x0, y: top - 47.7, silent: true,
    style: { text: MEDIAN_TEXT[p], fill: BLUE, font: LABEL_SIZE + 'px "' + FONT_FAMILY + '"', textAlign: 'left', textVerticalAlign: 'middle' }
  });
  graphics.push({
    type: 'text', x: x0 + wMain + 0.5, y: top - 52.8, silent: true,
    style: { text: ERR_UP_TEXT[p], fill: BLUE, font: SMALL_SIZE + 'px "' + FONT_FAMILY + '"', textAlign: 'left', textVerticalAlign: 'middle' }
  });
  graphics.push({
    type: 'text', x: x0 + wMain + 0.5, y: top - 42.8, silent: true,
    style: { text: ERR_DOWN_TEXT[p], fill: BLUE, font: SMALL_SIZE + 'px "' + FONT_FAMILY + '"', textAlign: 'left', textVerticalAlign: 'middle' }
  });
}

// ---------------- joint posteriors ----------------
PAIR_PANELS.forEach(panel => {
  const g = gridOf[panel.row + '_' + panel.col];
  const shapes = panel.levels.map((pts, k) => ({ pts, level: k }))
    .concat(panel.islands.map(pts => ({ pts, level: -1 })));
  series.push({
    type: 'custom', xAxisIndex: g, yAxisIndex: g, clip: true, silent: true, animation: false,
    data: shapes.map(s => s.pts[0]),
    renderItem(params, api) {
      const s = shapes[params.dataIndex];
      const points = s.pts.map(pt => api.coord(pt));
      if (s.level === -1) {
        return { type: 'polygon', shape: { points, smooth: SMOOTH }, style: { fill: 'rgba(255,255,255,0)', stroke: BLUE, lineWidth: CONTOUR_WIDTH - 0.2 } };
      }
      const main = { type: 'polygon', shape: { points, smooth: SMOOTH }, style: { fill: LEVEL_FILL[s.level], stroke: BLUE, lineWidth: CONTOUR_WIDTH, lineJoin: 'round' } };
      if (s.level === 0) {
        // faint cloud of samples spilling outside the outermost contour
        const halo = {
          type: 'polygon', shape: { points, smooth: SMOOTH },
          style: { fill: 'rgba(90,90,255,0.09)', stroke: 'rgba(90,90,255,0.06)', lineWidth: 34, lineJoin: 'round', shadowBlur: 26, shadowColor: 'rgba(90,90,255,0.2)' }
        };
        return { type: 'group', children: [halo, main] };
      }
      return main;
    }
  });
});

// ---------------- legend ----------------
graphics.push({ type: 'line', silent: true, shape: { x1: 652, y1: 129.3, x2: 703, y2: 129.3 }, style: { stroke: BLUE, lineWidth: 1.5 } });
graphics.push({
  type: 'text', x: 722.5, y: 129.8, silent: true,
  style: { text: LEGEND_TEXT, fill: '#000', font: LEGEND_SIZE + 'px "' + FONT_FAMILY + '"', textAlign: 'left', textVerticalAlign: 'middle' }
});

const chart = echarts.init(document.getElementById('chart'), null, { renderer: 'canvas' });
chart.setOption({
  backgroundColor: '#ffffff',
  animation: false,
  grid: grids,
  xAxis: xAxes,
  yAxis: yAxes,
  series,
  graphic: { elements: graphics }
});
</script>
</body>
</html>
